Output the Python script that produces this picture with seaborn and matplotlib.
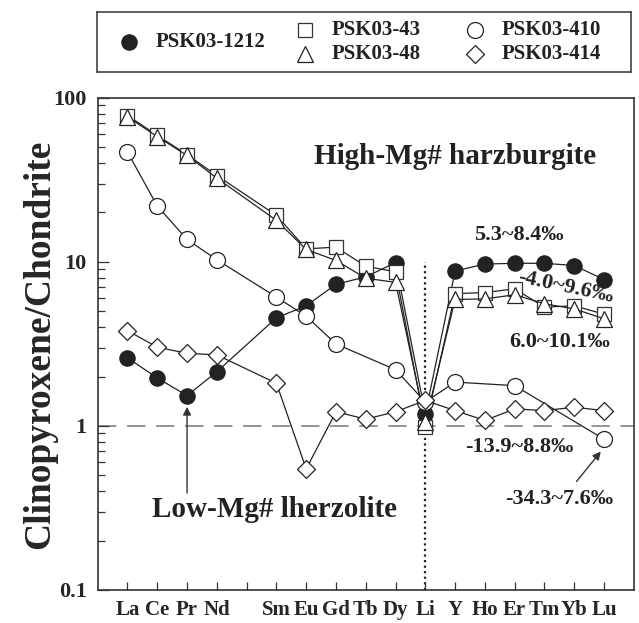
import numpy as np
import pandas as pd
import matplotlib
matplotlib.use("Agg")
import matplotlib.pyplot as plt
import seaborn as sns

# ---------------- data ----------------
elements = ["La", "Ce", "Pr", "Nd", "Pm", "Sm", "Eu", "Gd", "Tb", "Dy",
            "Li", "Y", "Ho", "Er", "Tm", "Yb", "Lu"]
tick_labels = ["La", "Ce", "Pr", "Nd", "", "Sm", "Eu", "Gd", "Tb", "Dy",
               "Li", "Y", "Ho", "Er", "Tm", "Yb", "Lu"]
nan = np.nan
psk1212 = [2.6, 1.96, 1.53, 2.14, nan, 4.56, 5.4, 7.3, 8.1, 9.9,
           1.18, 8.8, 9.7, 9.8, 9.8, 9.5, 7.8]
psk43 = [78, 59, 45, 33.6, nan, 19.2, 12.0, 12.3, 9.4, 8.7,
         0.99, 6.4, 6.5, 6.85, 5.3, 5.4, 4.8]
psk48 = [76.6, 58, 44.5, 32.4, nan, 17.9, 11.9, 10.2, 7.95, 7.5,
         1.05, 5.9, 5.95, 6.3, 5.55, 5.17, 4.5]
psk410 = [46.7, 21.9, 13.7, 10.3, nan, 6.1, 4.66, 3.16, nan, 2.2,
          1.4, 1.85, nan, 1.76, nan, nan, 0.83]
psk414 = [3.81, 3.02, 2.77, 2.71, nan, 1.82, 0.547, 1.22, 1.10, 1.22,
          1.43, 1.24, 1.08, 1.27, 1.24, 1.30, 1.24]
series_names = ["PSK03-1212", "PSK03-43", "PSK03-48", "PSK03-410", "PSK03-414"]
series_values = [psk1212, psk43, psk48, psk410, psk414]

# ---------------- style ----------------
sns.set_theme(style="white")
plt.rcParams["font.family"] = ["Liberation Serif", "DejaVu Serif"]
plt.rcParams["font.weight"] = "bold"
plt.rcParams["mathtext.default"] = "regular"

fig = plt.figure(figsize=(6.39, 6.23), dpi=100)
ax = fig.add_axes([0.1529, 0.053, 0.839, 0.790])

styles = {
    "PSK03-1212": dict(marker="o", markersize=11, markerfacecolor="#222222", markeredgecolor="#222222"),
    "PSK03-43": dict(marker="s", markersize=10.5, markerfacecolor="white", markeredgecolor="#333333"),
    "PSK03-48": dict(marker="^", markersize=11.5, markerfacecolor="white", markeredgecolor="#222222"),
    "PSK03-410": dict(marker="o", markersize=11.5, markerfacecolor="white", markeredgecolor="#222222"),
    "PSK03-414": dict(marker="D", markersize=9, markerfacecolor="white", markeredgecolor="#222222"),
}

xpos = np.arange(1, len(elements) + 1)
for name, vals in zip(series_names, series_values):
    df = pd.DataFrame({"x": xpos, "y": vals}).dropna()
    sns.lineplot(data=df, x="x", y="y", ax=ax, sort=False, color="#222222",
                 linewidth=0.9, markeredgewidth=0.9, legend=False, **styles[name])

ax.set_yscale("log")
ax.set_ylim(0.1, 100)
ax.set_xlim(0, 18)
ax.set_xticks(xpos)
ax.set_xticklabels(tick_labels, fontsize=15, fontweight="bold")
ax.set_yticks([0.1, 1, 10, 100])
ax.set_yticklabels(["0.1", "1", "10", "100"], fontsize=16, fontweight="bold")
ax.yaxis.set_minor_locator(matplotlib.ticker.LogLocator(base=10, subs=np.arange(2, 10)))
ax.yaxis.set_minor_formatter(matplotlib.ticker.NullFormatter())
ax.tick_params(axis="y", which="major", direction="in", length=8, width=0.9, pad=8, left=True, color="#333333")
ax.tick_params(axis="y", which="minor", direction="in", length=5, width=0.9, left=True, color="#333333")
ax.tick_params(axis="x", which="major", direction="in", length=6, width=0.9, pad=7, bottom=True, color="#333333")
for s in ax.spines.values():
    s.set_color("#333333")
    s.set_linewidth(1.2)
ax.set_xlabel("")
ax.set_ylabel("Clinopyroxene/Chondrite", fontsize=27, fontweight="bold", labelpad=-3)

# reference lines
ax.axhline(1, color="#777777", lw=1.1, ls=(0, (12, 7)), zorder=0)
ax.plot([11, 11], [0.1, 10], color="#222222", lw=1.6, ls=(0, (1, 1.5)), zorder=0)

# annotations
tk = dict(fontweight="bold", ha="center", va="center", color="#222222")
ax.text(12.0, 44, "High-Mg# harzburgite", fontsize=21, **tk)
ax.text(5.92, 0.31, "Low-Mg# lherzolite", fontsize=21, **tk)
ax.text(14.15, 14.6, "5.3~8.4‰", fontsize=16, **tk)
ax.text(15.7, 7.0, "-4.0~9.6‰", fontsize=16, rotation=-12, **tk)
ax.text(15.5, 3.25, "6.0~10.1‰", fontsize=16, **tk)
ax.text(14.15, 0.745, "-13.9~8.8‰", fontsize=16, **tk)
ax.text(15.5, 0.36, "-34.3~7.6‰", fontsize=16, **tk)
ax.annotate("", xy=(3, 1.36), xytext=(3, 0.375),
            arrowprops=dict(arrowstyle="-|>", color="#333333", lw=1.0, mutation_scale=12))
ax.annotate("", xy=(16.95, 0.72), xytext=(16.02, 0.445),
            arrowprops=dict(arrowstyle="-|>", color="#333333", lw=1.0, mutation_scale=12))

# legend box
lax = fig.add_axes([0.152, 0.884, 0.836, 0.097])
lax.set_xlim(0, 534)
lax.set_ylim(60, 0)
lax.set_xticks([])
lax.set_yticks([])
for s in lax.spines.values():
    s.set_color("#444444")
    s.set_linewidth(1.2)
leg_pos = {
    "PSK03-1212": (32, 30),
    "PSK03-43": (208, 18),
    "PSK03-48": (208, 42),
    "PSK03-410": (378, 18),
    "PSK03-414": (378, 42),
}
for name in series_names:
    px, py = leg_pos[name]
    st = dict(styles[name])
    lax.plot([px], [py], linestyle="none", markeredgewidth=0.9, **st)
    lax.text(px + 26, py, name, fontsize=15, fontweight="bold", va="center", ha="left", color="#222222")

fig.savefig("out.png", dpi=100)
